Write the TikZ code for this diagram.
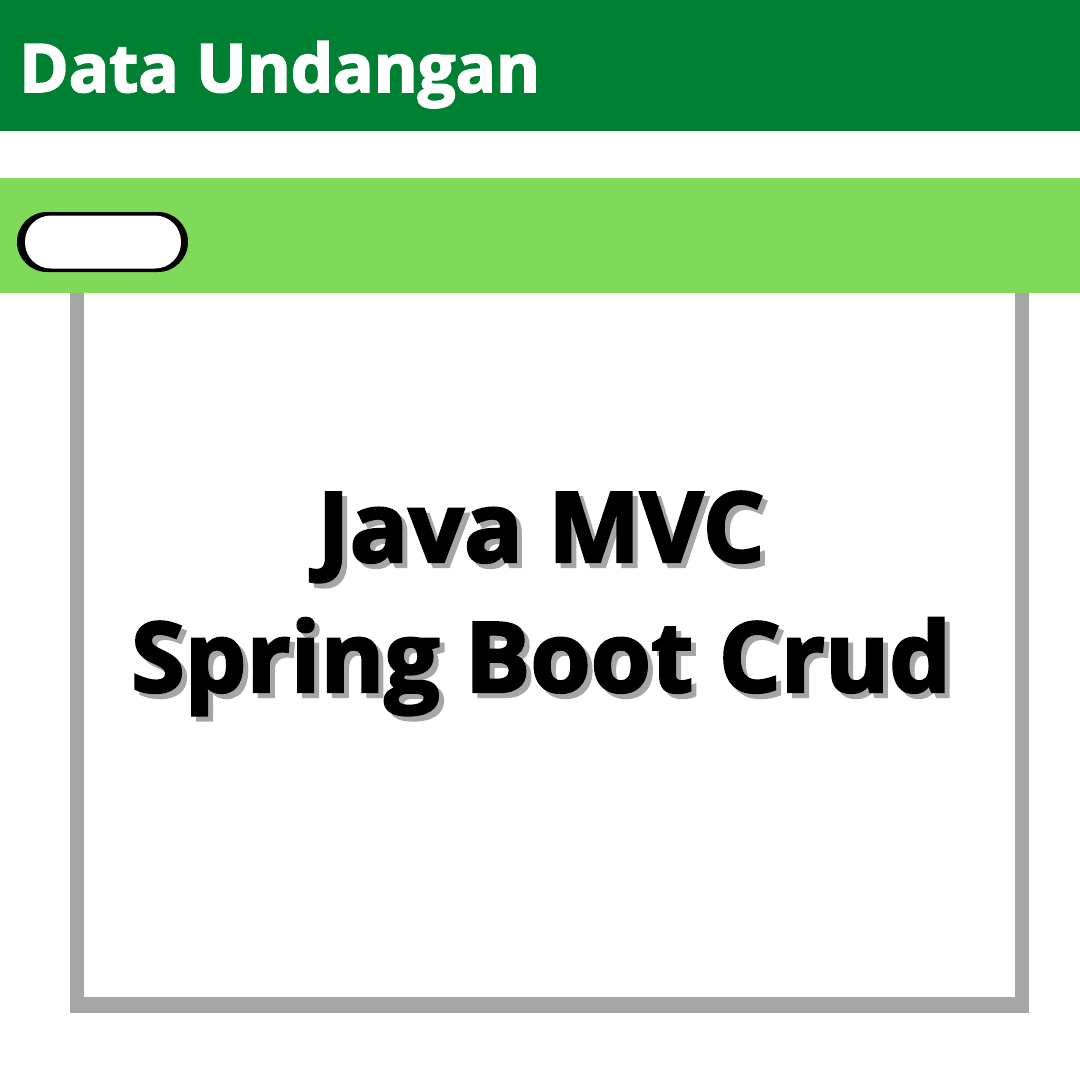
\documentclass[tikz,border=0pt]{standalone}
\usepackage{fontspec}
\setmainfont{Open Sans}[BoldFeatures={FakeBold=2.5}]
\definecolor{darkg}{HTML}{008033}
\definecolor{lightg}{HTML}{80DA5A}
\definecolor{frameg}{HTML}{A6A6A6}
\tikzset{
  bigtxt/.style={font=\fontsize{97.5}{130}\selectfont\bfseries, anchor=base, inner sep=0pt},
  titletxt/.style={font=\fontsize{67}{80}\selectfont\bfseries, text=white, anchor=base west, inner sep=0pt},
}
\begin{document}
\begin{tikzpicture}[x=1pt,y=-1pt]
\useasboundingbox (0,0) rectangle (1080,1080);
\fill[white] (0,0) rectangle (1080,1080);
% frame
\fill[frameg] (70,290) rectangle (84,1013);
\fill[frameg] (1015,290) rectangle (1029,1013);
\fill[frameg] (70,997) rectangle (1029,1013);
% bars
\fill[darkg] (0,0) rectangle (1080,131);
\fill[lightg] (0,178) rectangle (1080,293);
% pill
\fill[black, rounded corners=30pt] (17,212) rectangle (188,272);
\fill[white, rounded corners=26pt] (25,215.5) rectangle (181,268.5);
\node[titletxt] (title) at (19,92) {Data Undangan};
% main text with shadow
\node[bigtxt, text=frameg] (l1s) at (546,567) {Java MVC};
\node[bigtxt] (l1) at (541,562) {Java MVC};
\node[bigtxt, text=frameg] (l2s) at (546,697) {Spring Boot Crud};
\node[bigtxt] (l2) at (541,692) {Spring Boot Crud};
\end{tikzpicture}
\end{document}
